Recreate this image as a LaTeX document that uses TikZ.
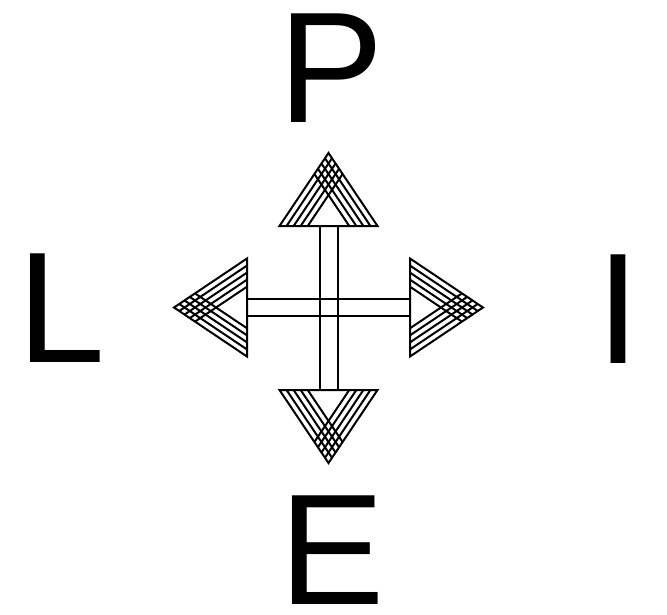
\documentclass[tikz,border=0pt]{standalone}
\usepackage{fontspec}
\setmainfont{Liberation Sans}
\usetikzlibrary{calc}
\newcommand\hatchtri[3]{%
  \draw[ln,line join=miter] (#1) -- (#2) -- (#3) -- cycle;
  \foreach \t in {0.072,0.144,0.216,0.288}{%
    \pgfmathsetmacro\u{1-\t}
    \draw[ln] ($(#1)!\t!(#2)$) -- ($(#2)!\u!(#3)$);
    \draw[ln] ($(#2)!\t!(#1)$) -- ($(#1)!\u!(#3)$);
  }%
}
\tikzset{
  ln/.style={line width=2pt, black},
  letter/.style={inner sep=0pt, anchor=base west, text depth=0pt, font=\fontsize{158}{158}\selectfont}
}
\begin{document}
\begin{tikzpicture}[x=1pt,y=-1pt]
\useasboundingbox (0,0) rectangle (667,615);
% letters
\node[letter] (P) at (278.5,123) {P};
\node[letter] (L) at (17.5,362) {L};
\node[letter] (I) at (596,363) {I};
\node[letter] (E) at (279.5,604) {E};
% stems
\draw[ln] (320,226) rectangle (338,390);
\draw[ln] (247,299) rectangle (410,316);
% arrowheads
\coordinate (uA) at (279.5,226); \coordinate (uB) at (377.5,226); \coordinate (uC) at (328.5,153);
\coordinate (dA) at (279.5,390); \coordinate (dB) at (377.5,390); \coordinate (dC) at (328.5,463);
\coordinate (lA) at (247,258.5); \coordinate (lB) at (247,356.5); \coordinate (lC) at (174,307.5);
\coordinate (rA) at (410,258.5); \coordinate (rB) at (410,356.5); \coordinate (rC) at (483,307.5);
\hatchtri{uA}{uB}{uC}
\hatchtri{dA}{dB}{dC}
\hatchtri{lA}{lB}{lC}
\hatchtri{rA}{rB}{rC}
\end{tikzpicture}
\end{document}
